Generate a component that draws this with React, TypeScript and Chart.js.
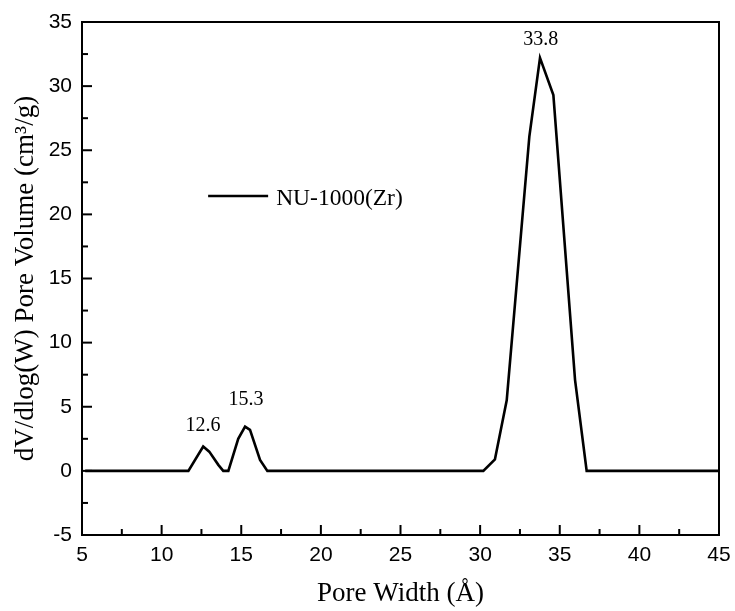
import React, { useEffect, useRef } from "react";
import { Chart, registerables } from "chart.js";

Chart.register(...registerables);

const seriesName = "NU-1000(Zr)";
const poreWidth = [5.2, 8, 11, 11.68, 12.61, 12.99, 13.56, 13.87, 14.19, 14.81, 15.24, 15.55, 16.18, 16.64, 20, 25, 30.2, 30.93, 31.67, 33.09, 33.76, 34.6, 35.96, 36.69, 40, 45];
const poreVolume = [0, 0, 0, 0, 1.9, 1.5, 0.47, 0, 0, 2.5, 3.45, 3.2, 0.86, 0, 0, 0, 0, 0.9, 5.5, 26.07, 32.2, 29.3, 7.1, 0, 0, 0];
const xTickValues = [5, 10, 15, 20, 25, 30, 35, 40, 45];
const yTickValues = [-5, 0, 5, 10, 15, 20, 25, 30, 35];
const peakLabels = ["12.6", "15.3", "33.8"];
const peakLabelX = [12.6, 15.3, 33.8];
const peakLabelY = [3.1, 5.15, 33.2];

const SERIF = "'Liberation Serif', 'Times New Roman', serif";
const SANS = "'Liberation Sans', Arial, sans-serif";

const framePlugin = {
  id: "frameAndNotes",
  afterDatasetsDraw(chart: any) {
    const { ctx, chartArea, scales } = chart;
    const { left, right, top, bottom } = chartArea;
    const xs = scales.x;
    const ys = scales.y;
    ctx.save();
    ctx.strokeStyle = "#000";
    ctx.lineWidth = 2;
    ctx.lineCap = "butt";
    ctx.strokeRect(left, top, right - left, bottom - top);
    for (let i = 0; i < xTickValues.length; i++) {
      const v = xTickValues[i];
      const px = xs.getPixelForValue(v);
      ctx.beginPath();
      ctx.moveTo(px, bottom);
      ctx.lineTo(px, bottom - 10);
      ctx.stroke();
      if (i < xTickValues.length - 1) {
        const m = (v + xTickValues[i + 1]) / 2;
        const pm = xs.getPixelForValue(m);
        ctx.beginPath();
        ctx.moveTo(pm, bottom);
        ctx.lineTo(pm, bottom - 6);
        ctx.stroke();
      }
    }
    for (let i = 0; i < yTickValues.length; i++) {
      const v = yTickValues[i];
      const py = ys.getPixelForValue(v);
      ctx.beginPath();
      ctx.moveTo(left, py);
      ctx.lineTo(left + 10, py);
      ctx.stroke();
      if (i < yTickValues.length - 1) {
        const m = (v + yTickValues[i + 1]) / 2;
        const pm = ys.getPixelForValue(m);
        ctx.beginPath();
        ctx.moveTo(left, pm);
        ctx.lineTo(left + 6, pm);
        ctx.stroke();
      }
    }
    ctx.fillStyle = "#000";
    ctx.font = `20px ${SERIF}`;
    ctx.textAlign = "center";
    ctx.textBaseline = "alphabetic";
    for (let i = 0; i < peakLabels.length; i++) {
      ctx.fillText(peakLabels[i], xs.getPixelForValue(peakLabelX[i]), ys.getPixelForValue(peakLabelY[i]));
    }
    const w = right - left;
    const h = bottom - top;
    const lx = left + w * 0.198;
    const ly = top + h * 0.339;
    ctx.lineWidth = 2.5;
    ctx.beginPath();
    ctx.moveTo(lx, ly);
    ctx.lineTo(lx + 60, ly);
    ctx.stroke();
    ctx.font = `23.5px ${SERIF}`;
    ctx.textAlign = "left";
    ctx.fillText(seriesName, lx + 68, ly + 9);
    ctx.restore();
  },
};

export default function App() {
  const ref = useRef<HTMLCanvasElement | null>(null);
  useEffect(() => {
    if (!ref.current) return;
    const chart = new Chart(ref.current, {
      type: "scatter",
      data: {
        datasets: [
          {
            label: seriesName,
            data: poreWidth.map((x, i) => ({ x, y: poreVolume[i] })),
            showLine: true,
            borderColor: "#000",
            borderWidth: 2.6,
            pointRadius: 0,
            tension: 0,
            fill: false,
          },
        ],
      },
      options: {
        responsive: false,
        animation: false,
        layout: { padding: { top: 22, right: 16, left: 0, bottom: 0 } },
        plugins: { legend: { display: false }, tooltip: { enabled: false } },
        scales: {
          x: {
            type: "linear",
            min: 5,
            max: 45,
            grid: { display: false, drawTicks: false },
            border: { display: false },
            afterBuildTicks: (s: any) => {
              s.ticks = xTickValues.map((value) => ({ value }));
            },
            afterFit: (s: any) => {
              s.height = 76;
              s.paddingLeft = 0;
              s.paddingRight = 0;
            },
            ticks: {
              color: "#000",
              font: { family: SANS, size: 21 },
              padding: 8,
              maxRotation: 0,
              autoSkip: false,
            },
            title: {
              display: true,
              text: "Pore Width (Å)",
              color: "#000",
              font: { family: SERIF, size: 27 },
              padding: { top: 0, bottom: 1 },
            },
          },
          y: {
            type: "linear",
            min: -5,
            max: 35,
            grid: { display: false, drawTicks: false },
            border: { display: false },
            afterBuildTicks: (s: any) => {
              s.ticks = yTickValues.map((value) => ({ value }));
            },
            afterFit: (s: any) => {
              s.width = 82;
              s.paddingTop = 0;
              s.paddingBottom = 0;
            },
            ticks: {
              color: "#000",
              font: { family: SANS, size: 21 },
              padding: 10,
              autoSkip: false,
            },
            title: {
              display: true,
              text: "dV/dlog(W) Pore Volume (cm³/g)",
              color: "#000",
              font: { family: SERIF, size: 27 },
              padding: { top: 10, bottom: 0 },
            },
          },
        },
      },
      plugins: [framePlugin],
    } as any);
    return () => chart.destroy();
  }, []);
  return (
    <div style={{ position: "absolute", left: 0, top: 0, width: 735, height: 611, background: "#fff" }}>
      <canvas ref={ref} width={735} height={611} style={{ display: "block" }} />
    </div>
  );
}
